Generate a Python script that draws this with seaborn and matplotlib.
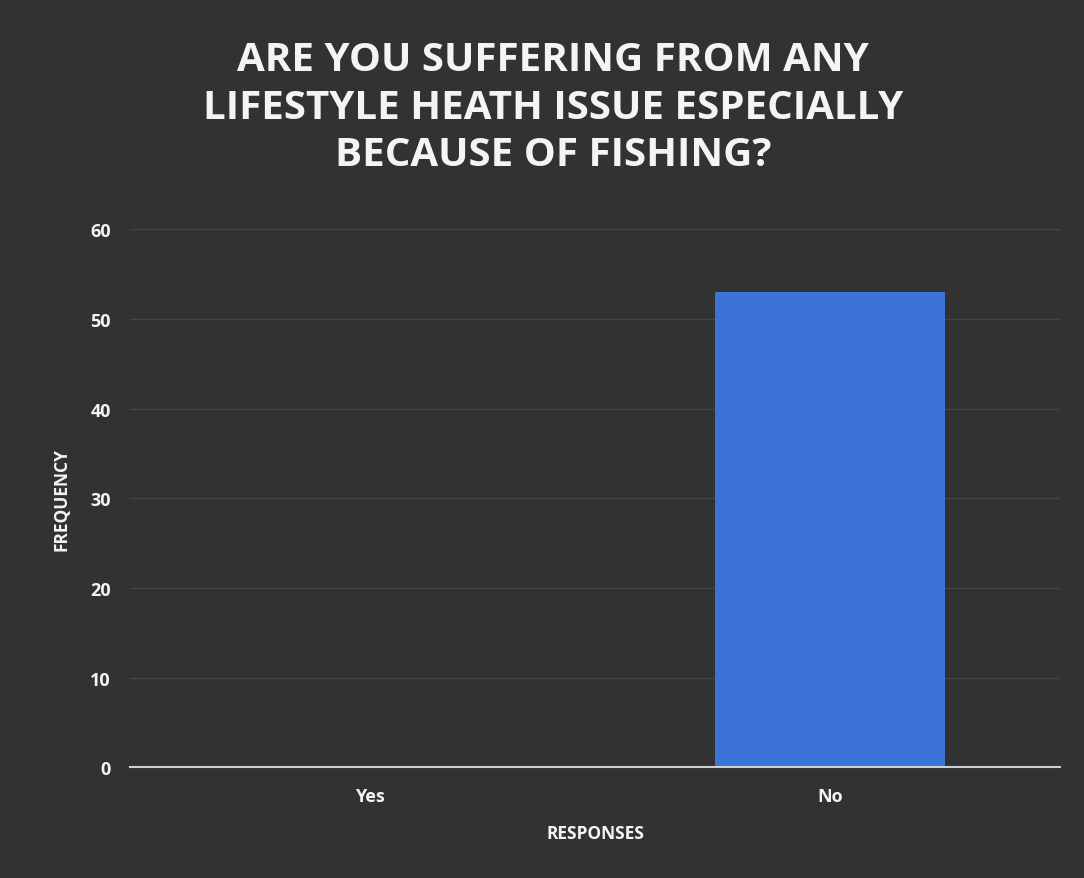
import matplotlib
matplotlib.use("Agg")
import matplotlib.pyplot as plt
import seaborn as sns
import pandas as pd

# dados do gráfico
responses = ["Yes", "No"]
frequency = [0, 53]
y_ticks = [0, 10, 20, 30, 40, 50, 60]
title = "ARE YOU SUFFERING FROM ANY\nLIFESTYLE HEATH ISSUE ESPECIALLY\nBECAUSE OF FISHING?"

bg = "#333232"
bar_color = "#3b73d6"
text_color = "#f4f4f4"

sns.set_theme(style="dark")
plt.rcParams["font.family"] = ["Open Sans", "DejaVu Sans"]

df = pd.DataFrame({"Response": responses, "Frequency": frequency})

fig = plt.figure(figsize=(10.84, 8.79), dpi=100)
fig.patch.set_facecolor(bg)
ax = fig.add_axes([0.12, 0.126, 0.858, 0.612])
ax.set_facecolor(bg)

sns.barplot(data=df, x="Response", y="Frequency", order=responses,
            color=bar_color, width=0.5, saturation=1, linewidth=0,
            ax=ax, zorder=3)

ax.set_ylim(0, 60)
ax.set_xlim(-0.52, 1.5)
ax.set_yticks(y_ticks)
ax.set_yticklabels([str(t) for t in y_ticks], color=text_color,
                   fontsize=13, fontweight="bold")
ax.set_xticks(range(len(responses)))
ax.set_xticklabels(responses, color=text_color, fontsize=13, fontweight="bold")
ax.tick_params(axis="both", length=0, pad=14)

# linhas de grade
ax.grid(axis="y", color="#454545", linewidth=1.0, zorder=0)
ax.grid(axis="x", visible=False)
for side in ["top", "right", "left"]:
    ax.spines[side].set_visible(False)
ax.spines["bottom"].set_color("#cfcfcf")
ax.spines["bottom"].set_linewidth(1.5)
ax.spines["bottom"].set_zorder(4)

ax.set_xlabel("RESPONSES", color=text_color, fontsize=12.5,
              fontweight="bold", labelpad=14)
ax.set_ylabel("FREQUENCY", color=text_color, fontsize=12.5,
              fontweight="bold", labelpad=14)

fig.text(0.51, 0.877, title, ha="center", va="center", color=text_color,
         fontsize=29, fontweight="bold", linespacing=1.28)

plt.savefig("out.png", dpi=100, facecolor=bg)
